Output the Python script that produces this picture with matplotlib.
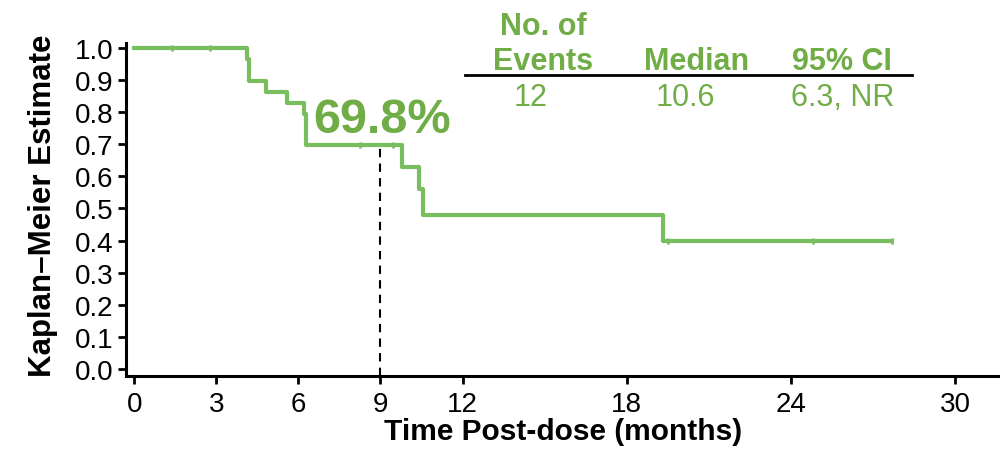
import numpy as np
import matplotlib
matplotlib.use("Agg")
import matplotlib.pyplot as plt

plt.rcParams['font.family'] = ['Liberation Sans', 'DejaVu Sans']

# KM step curve (time in months, survival estimate)
stepTimes = [0, 4.13, 4.2, 4.8, 5.6, 6.19, 6.27, 9.78, 10.39, 10.57, 19.34, 27.7]
stepSurv = [1.0, 0.967, 0.898, 0.864, 0.829, 0.795, 0.698, 0.630, 0.561, 0.480, 0.400, 0.400]

# censored observations
censorTimes = [1.39, 2.78, 8.26, 9.46, 19.5, 24.8, 27.7]
censorSurv = [1.0, 1.0, 0.698, 0.698, 0.400, 0.400, 0.400]

landmarkTime = 9
landmarkSurv = 0.698
landmarkLabel = "69.8%"

xticks = [0, 3, 6, 9, 12, 18, 24, 30]
yticks = np.round(np.arange(0, 1.01, 0.1), 1)

headers = ["No. of\nEvents", "Median", "95% CI"]
values = ["12", "10.6", "6.3, NR"]

lineGreen = '#78BD5E'
textGreen = '#70AD47'

fig = plt.figure(figsize=(10, 4.52), dpi=100)
ax = fig.add_axes([0.126, 0.166, 0.874, 0.737])

ax.step(stepTimes, stepSurv, where='post', color=lineGreen, lw=3)
ax.plot(censorTimes, censorSurv, ls='none', marker='|', ms=5, mew=2, color=lineGreen)

# dashed drop line at the landmark time
ax.plot([landmarkTime, landmarkTime], [-0.022, landmarkSurv], color='black', ls=(0, (4, 3)), lw=1.5)
ax.text(6.54, 0.738, landmarkLabel, color=textGreen, fontsize=35, fontweight='bold',
        ha='left', va='baseline')

ax.set_xlim(-0.3, 31.64)
ax.set_ylim(-0.022, 1.016)
ax.set_xticks(xticks)
ax.set_yticks(yticks)
ax.set_yticklabels(['{:.1f}'.format(v) for v in yticks])
ax.tick_params(axis='both', direction='out', length=6, width=2, labelsize=20, pad=3)
ax.tick_params(axis='x', pad=5)

for side in ['top', 'right']:
    ax.spines[side].set_visible(False)
for side in ['left', 'bottom']:
    ax.spines[side].set_linewidth(2.2)

ax.set_xlabel('Time Post-dose (months)', fontsize=21.5, fontweight='bold', labelpad=0)
ax.set_ylabel('Kaplan\u2013Meier Estimate', fontsize=22.5, fontweight='bold')
ax.yaxis.set_label_coords(-0.078, 0.515)

# summary table above the curve
def px(x, y):
    return x / 1000, 1 - y / 452

headerX = [543, 697, 842]
valueX = [531, 685, 843]
for hx, h in zip(headerX, headers):
    fig.text(*px(hx, 70), h, color=textGreen, fontsize=22, fontweight='bold',
             ha='center', va='baseline', linespacing=1.2)
for vx, v in zip(valueX, values):
    fig.text(*px(vx, 106), v, color=textGreen, fontsize=22, ha='center', va='baseline')

fig.add_artist(plt.Line2D([465 / 1000, 912 / 1000], [1 - 76 / 452] * 2, color='black', lw=2))

fig.savefig('out.png', dpi=100)
